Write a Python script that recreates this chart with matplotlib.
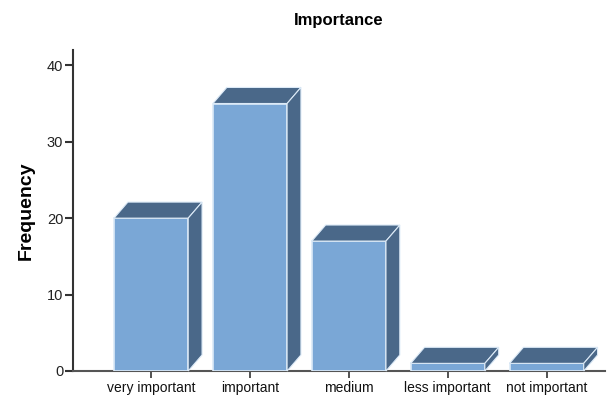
import matplotlib.pyplot as plt
from matplotlib.patches import Polygon

plt.rcParams['font.family'] = ['Liberation Sans', 'DejaVu Sans']

categories = ["very important", "important", "medium", "less important", "not important"]
frequency = [20, 35, 17, 1, 1]

FRONT = "#7AA7D6"
DARK = "#4A6889"
EDGE = "#DCEAF7"

bar_width = 0.75
depth_x = 0.14   # 3D depth, data units
depth_y = 2.1

fig = plt.figure(figsize=(6.11, 4.0), dpi=100)
ax = fig.add_axes([73 / 611, 29 / 400, 532 / 611, 321 / 400])

x = list(range(len(categories)))
ax.bar(x, frequency, width=bar_width, color=FRONT, edgecolor=EDGE, linewidth=1.2, zorder=3)

for xi, h in zip(x, frequency):
    left = xi - bar_width / 2
    right = xi + bar_width / 2
    top = Polygon([(left, h), (left + depth_x, h + depth_y), (right + depth_x, h + depth_y), (right, h)],
                  closed=True, facecolor=DARK, edgecolor=EDGE, linewidth=0.8, zorder=3, clip_on=False)
    side = Polygon([(right, 0), (right + depth_x, depth_y), (right + depth_x, h + depth_y), (right, h)],
                   closed=True, facecolor=DARK, edgecolor=EDGE, linewidth=0.8, zorder=3, clip_on=False)
    ax.add_patch(top)
    ax.add_patch(side)

ax.set_xlim(-0.79, 4.59)
ax.set_ylim(0, 42)
ax.set_yticks([0, 10, 20, 30, 40])
ax.set_xticks(x)
ax.set_xticklabels(categories, fontsize=10)
ax.tick_params(axis="y", labelsize=10.5, length=6, width=1.5, color="#333333", labelcolor="#222222", pad=1)
ax.tick_params(axis="x", length=5, width=1.2, color="#333333", labelcolor="#111111", pad=2)

for s in ["top", "right"]:
    ax.spines[s].set_visible(False)
ax.spines["left"].set_linewidth(1.5)
ax.spines["left"].set_color("#333333")
ax.spines["bottom"].set_linewidth(1.5)
ax.spines["bottom"].set_color("#555555")

ax.set_ylabel("Frequency", fontsize=14, fontweight="bold", labelpad=9)
ax.set_title("Importance", fontsize=12, fontweight="bold", pad=18)

fig.savefig("out.png", dpi=100)
